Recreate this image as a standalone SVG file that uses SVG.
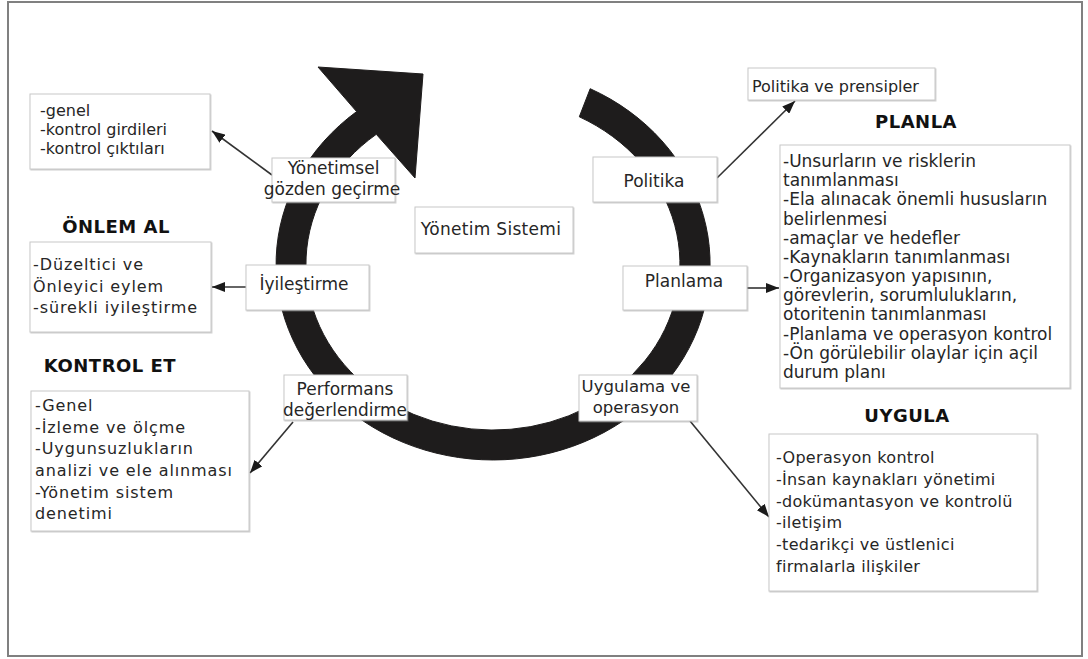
<svg xmlns="http://www.w3.org/2000/svg" width="1088" height="659" viewBox="0 0 1088 659">
  <style>
    .frame { fill: #ffffff; stroke: #808080; stroke-width: 2; }
    .box { fill: #ffffff; stroke: #c8c8c8; stroke-width: 1; filter: url(#shadow); }
    .txt { font-family: "DejaVu Sans", Verdana, sans-serif; font-size: 16px; fill: #262626; }
    .lbl { font-family: "DejaVu Sans", Verdana, sans-serif; font-size: 17px; fill: #262626; text-anchor: middle; }
    .sp { letter-spacing: 0.9px; }
    .head { font-family: "DejaVu Sans", Verdana, sans-serif; font-size: 18px; font-weight: bold; fill: #111111; letter-spacing: 0.5px; text-anchor: middle; }
    .ring { fill: #1e1c1c; stroke: #1e1c1c; stroke-width: 1; stroke-linejoin: miter; }
    .conn { stroke: #333333; stroke-width: 1.6; fill: none; marker-end: url(#arrow); }
  </style>
  <defs>
    <filter id="shadow" x="-5%" y="-5%" width="110%" height="115%">
      <feDropShadow dx="0.8" dy="1" stdDeviation="0.5" flood-color="#9a9a9a" flood-opacity="0.5"/>
    </filter>
    <marker id="arrow" markerUnits="userSpaceOnUse" markerWidth="13" markerHeight="10" refX="13" refY="5" orient="auto">
      <path d="M0,0 L13,5 L0,10 Z" fill="#1a1a1a"/>
    </marker>
  </defs>

  <!-- outer frame -->
  <rect class="frame" x="8" y="2" width="1074" height="654"/>

  <!-- circular process arrow -->
  <g id="cycle-arrow">
    <path class="ring" d="M 590.2 88.7 A 217 196 0 1 1 356.6 111.6 L 318 67 L 423 74 L 415 178 L 376.3 134.3 A 187 166 0 1 0 579.3 116.8 Z"/>
  </g>

  <!-- connectors -->
  <g id="connectors">
    <line class="conn" x1="272" y1="175" x2="212" y2="131"/>
    <line class="conn" x1="717" y1="178" x2="795" y2="101"/>
    <line class="conn" x1="747" y1="288" x2="779" y2="288"/>
    <line class="conn" x1="246" y1="287" x2="212" y2="287"/>
    <line class="conn" x1="293" y1="422" x2="250" y2="473"/>
    <line class="conn" x1="690" y1="421" x2="769" y2="517"/>
  </g>

  <!-- review outputs -->
  <g id="review-list">
    <rect class="box" x="30" y="94" width="180" height="75"/>
    <text class="txt" x="40" y="116">-genel</text>
    <text class="txt" x="40" y="135">-kontrol girdileri</text>
    <text class="txt" x="40" y="154">-kontrol çıktıları</text>
  </g>

  <g id="yonetimsel">
    <rect class="box" x="272" y="158" width="123" height="44"/>
    <text class="lbl" x="333.5" y="174">Yönetimsel</text>
    <text class="lbl" x="332" y="195">gözden geçirme</text>
  </g>

  <g id="yonetim-sistemi">
    <rect class="box" x="415" y="207" width="158" height="46"/>
    <text class="lbl" x="491" y="235" style="letter-spacing:0.3px">Yönetim Sistemi</text>
  </g>

  <g id="politika">
    <rect class="box" x="593" y="157" width="124" height="45"/>
    <text class="lbl" x="654" y="187">Politika</text>
  </g>

  <g id="politika-prensip">
    <rect class="box" x="748" y="68" width="187" height="32"/>
    <text class="txt" x="752" y="92">Politika ve prensipler</text>
  </g>

  <!-- PLANLA -->
  <g id="planla">
    <text class="head" x="916" y="128">PLANLA</text>
    <rect class="box" x="780" y="145" width="290" height="243"/>
    <g class="txt" style="font-size:17px">
      <text x="783" y="167">-Unsurların ve risklerin</text>
      <text x="783" y="186">tanımlanması</text>
      <text x="783" y="205">-Ela alınacak önemli hususların</text>
      <text x="783" y="224.5">belirlenmesi</text>
      <text x="783" y="243.5">-amaçlar ve hedefler</text>
      <text x="783" y="263">-Kaynakların tanımlanması</text>
      <text x="783" y="282">-Organizasyon yapısının,</text>
      <text x="783" y="301">görevlerin, sorumlulukların,</text>
      <text x="783" y="320">otoritenin tanımlanması</text>
      <text x="783" y="339.5">-Planlama ve operasyon kontrol</text>
      <text x="783" y="358.5">-Ön görülebilir olaylar için açil</text>
      <text x="783" y="378">durum planı</text>
    </g>
  </g>

  <g id="planlama">
    <rect class="box" x="623" y="266" width="124" height="44"/>
    <text class="lbl" x="684" y="287">Planlama</text>
  </g>

  <!-- ÖNLEM AL -->
  <g id="onlem-al">
    <text class="head" x="116" y="233">ÖNLEM AL</text>
    <rect class="box" x="30" y="242" width="181" height="90"/>
    <text class="txt sp" x="33" y="270">-Düzeltici ve</text>
    <text class="txt sp" x="33" y="292">Önleyici eylem</text>
    <text class="txt sp" x="33" y="313">-sürekli iyileştirme</text>
  </g>

  <g id="iyilestirme">
    <rect class="box" x="246" y="265" width="123" height="45"/>
    <text class="lbl" x="304" y="290">İyileştirme</text>
  </g>

  <!-- KONTROL ET -->
  <g id="kontrol-et">
    <text class="head" x="110" y="372">KONTROL ET</text>
    <rect class="box" x="31" y="391" width="218" height="140"/>
    <text class="txt sp" x="35" y="411">-Genel</text>
    <text class="txt sp" x="35" y="433">-İzleme ve ölçme</text>
    <text class="txt sp" x="35" y="454">-Uygunsuzlukların</text>
    <text class="txt sp" x="35" y="476">analizi ve ele alınması</text>
    <text class="txt sp" x="35" y="498">-Yönetim sistem</text>
    <text class="txt sp" x="35" y="519">denetimi</text>
  </g>

  <g id="performans">
    <rect class="box" x="284" y="375" width="123" height="45"/>
    <text class="lbl" x="345" y="395">Performans</text>
    <text class="lbl" x="345" y="416" textLength="124" lengthAdjust="spacingAndGlyphs">değerlendirme</text>
  </g>

  <g id="uygulama">
    <rect class="box" x="579" y="375" width="118" height="46"/>
    <text class="lbl" x="636" y="392" style="font-size:16.5px">Uygulama ve</text>
    <text class="lbl" x="636" y="413" style="font-size:16.5px">operasyon</text>
  </g>

  <!-- UYGULA -->
  <g id="uygula">
    <text class="head" x="907" y="422">UYGULA</text>
    <rect class="box" x="769" y="434" width="268" height="157"/>
    <g class="txt" style="letter-spacing:0.3px">
      <text x="776" y="463">-Operasyon kontrol</text>
      <text x="776" y="485">-İnsan kaynakları yönetimi</text>
      <text x="776" y="507">-dokümantasyon ve kontrolü</text>
      <text x="776" y="528">-iletişim</text>
      <text x="776" y="550">-tedarikçi ve üstlenici</text>
      <text x="776" y="572">firmalarla ilişkiler</text>
    </g>
  </g>
</svg>
